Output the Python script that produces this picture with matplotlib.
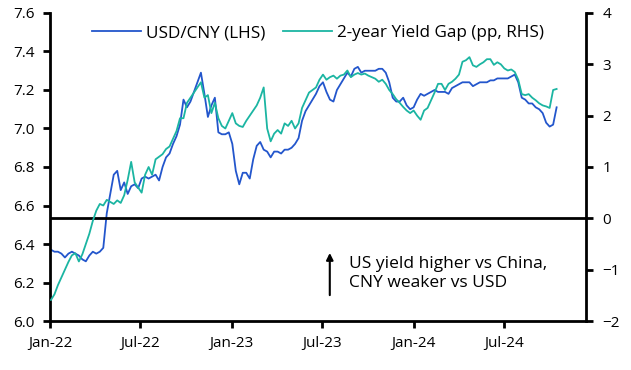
import numpy as np
import pandas as pd
import matplotlib
matplotlib.use("Agg")
import matplotlib.pyplot as plt
import matplotlib.dates as mdates
from matplotlib.ticker import FormatStrFormatter

plt.rcParams['font.family'] = ['Open Sans', 'DejaVu Sans']

# weekly observations, Jan-2022 .. Oct-2024
dates = pd.date_range('2022-01-03', periods=146, freq='W-MON')

usdcny = [
    6.37, 6.36, 6.36, 6.35, 6.33, 6.35, 6.36, 6.35, 6.34, 6.32,
    6.31, 6.34, 6.36, 6.35, 6.36, 6.38, 6.56, 6.66, 6.76, 6.78,
    6.68, 6.72, 6.66, 6.70, 6.71, 6.69, 6.74, 6.75, 6.74, 6.75,
    6.76, 6.73, 6.80, 6.85, 6.87, 6.92, 6.96, 7.02, 7.15, 7.11,
    7.14, 7.19, 7.24, 7.29, 7.18, 7.06, 7.12, 7.16, 6.98, 6.97,
    6.97, 6.98, 6.92, 6.78, 6.71, 6.77, 6.77, 6.74, 6.84, 6.91,
    6.93, 6.89, 6.88, 6.85, 6.88, 6.88, 6.87, 6.89, 6.89, 6.90,
    6.92, 6.95, 7.04, 7.09, 7.12, 7.15, 7.18, 7.22, 7.24, 7.19,
    7.15, 7.14, 7.20, 7.23, 7.26, 7.29, 7.27, 7.31, 7.32, 7.29,
    7.30, 7.30, 7.30, 7.30, 7.31, 7.31, 7.29, 7.24, 7.16, 7.14,
    7.14, 7.16, 7.12, 7.10, 7.11, 7.15, 7.18, 7.17, 7.18, 7.19,
    7.20, 7.19, 7.19, 7.19, 7.18, 7.21, 7.22, 7.23, 7.24, 7.24,
    7.24, 7.22, 7.23, 7.24, 7.24, 7.24, 7.25, 7.25, 7.26, 7.26,
    7.26, 7.26, 7.27, 7.28, 7.24, 7.16, 7.15, 7.13, 7.13, 7.11,
    7.10, 7.08, 7.03, 7.01, 7.02, 7.11,
]

yield_gap = [
    -1.59, -1.48, -1.30, -1.15, -1.00, -0.85, -0.72, -0.68, -0.84, -0.70,
    -0.50, -0.30, -0.05, 0.15, 0.28, 0.25, 0.36, 0.32, 0.28, 0.35,
    0.30, 0.45, 0.75, 1.10, 0.70, 0.60, 0.50, 0.85, 1.00, 0.85,
    1.15, 1.20, 1.25, 1.35, 1.40, 1.55, 1.70, 1.95, 1.95, 2.25,
    2.35, 2.45, 2.55, 2.65, 2.35, 2.40, 2.05, 2.25, 1.95, 1.80,
    1.75, 1.90, 2.05, 1.85, 1.80, 1.78, 1.90, 2.00, 2.10, 2.20,
    2.35, 2.55, 1.75, 1.50, 1.65, 1.72, 1.65, 1.85, 1.80, 1.90,
    1.75, 1.85, 2.15, 2.30, 2.45, 2.50, 2.55, 2.70, 2.80, 2.70,
    2.75, 2.78, 2.72, 2.78, 2.80, 2.88, 2.75, 2.80, 2.83, 2.80,
    2.82, 2.78, 2.75, 2.72, 2.66, 2.70, 2.62, 2.50, 2.42, 2.32,
    2.25, 2.17, 2.10, 2.05, 2.10, 2.00, 1.92, 2.10, 2.15, 2.30,
    2.45, 2.62, 2.62, 2.50, 2.62, 2.66, 2.72, 2.80, 3.05, 3.08,
    3.14, 2.98, 2.95, 3.00, 3.04, 3.10, 3.10, 2.99, 3.04, 3.00,
    2.92, 2.88, 2.90, 2.85, 2.70, 2.42, 2.40, 2.42, 2.35, 2.30,
    2.24, 2.20, 2.18, 2.15, 2.50, 2.52,
]

left_ticks = np.arange(6.0, 7.61, 0.2)
right_ticks = np.arange(-2, 5, 1)

blue = '#2356CC'
teal = '#1BB5A2'

fig = plt.figure(figsize=(6.31, 3.70), dpi=100)
ax = fig.add_axes([0.0792, 0.1324, 0.8495, 0.8325])
ax2 = ax.twinx()

l1, = ax.plot(dates, usdcny, color=blue, lw=1.3, label='USD/CNY (LHS)')
l2, = ax2.plot(dates, yield_gap, color=teal, lw=1.3, label='2-year Yield Gap (pp, RHS)')
ax2.axhline(0, color='black', lw=2, zorder=1)

ax.set_ylim(6.0, 7.6)
ax.set_yticks(left_ticks)
ax.yaxis.set_major_formatter(FormatStrFormatter('%.1f'))
ax2.set_ylim(-2, 4)
ax2.set_yticks(right_ticks)

ax.set_xlim(pd.Timestamp('2022-01-01'), pd.Timestamp('2024-12-12'))
ax.xaxis.set_major_locator(mdates.MonthLocator(bymonth=[1, 7]))
ax.xaxis.set_major_formatter(mdates.DateFormatter('%b-%y'))

for a in (ax, ax2):
    a.spines['top'].set_visible(False)
    for s in ('left', 'right', 'bottom'):
        a.spines[s].set_linewidth(2)
    a.tick_params(width=2, length=5, labelsize=11, color='black')
ax.spines['right'].set_visible(False)
ax2.spines['left'].set_visible(False)
ax2.spines['bottom'].set_visible(False)
ax.tick_params(axis='x', pad=6)
ax.tick_params(axis='y', pad=6)
ax2.tick_params(axis='y', pad=7)

ax.legend(handles=[l1, l2], loc='center', bbox_to_anchor=(0.5, 0.935),
          ncol=2, frameon=False, fontsize=12.3, handlelength=2.9,
          columnspacing=1.0, handletextpad=0.3)

ax.annotate('', xy=(0.522, 0.23), xytext=(0.522, 0.075), xycoords='axes fraction',
            arrowprops=dict(arrowstyle='-|>', color='black', lw=1.5, mutation_scale=10))
ax.text(0.558, 0.154, 'US yield higher vs China,\nCNY weaker vs USD',
        transform=ax.transAxes, fontsize=12.5, va='center', ha='left',
        linespacing=1.3)

fig.savefig('out.png', dpi=100)
